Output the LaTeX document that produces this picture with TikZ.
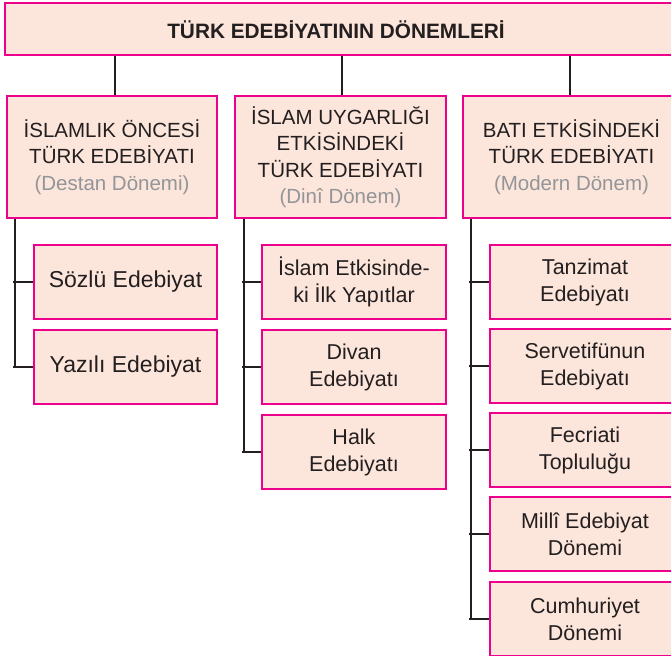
\documentclass[tikz,border=0pt]{standalone}
\usepackage{fontspec}
\setmainfont{Liberation Sans}
\definecolor{boxfill}{HTML}{FCE5DA}
\definecolor{boxline}{HTML}{EC008C}
\definecolor{ink}{HTML}{231F20}
\definecolor{subgray}{HTML}{939598}
\tikzset{
  x=1pt, y=-1pt,
  pbox/.style={draw=boxline, fill=boxfill, line width=2pt, inner sep=0pt, align=center, text=ink, anchor=center},
  lvlone/.style={pbox, font=\fontsize{20.5}{26.5}\selectfont},
  kid/.style={pbox, font=\fontsize{21.5}{27}\selectfont},
  kidA/.style={pbox, font=\fontsize{23}{28}\selectfont},
  conn/.style={draw=ink, line width=2.5pt},
}
\newcommand{\sub}[1]{\textcolor{subgray}{#1}}
\begin{document}
\begin{tikzpicture}
\useasboundingbox (0,0) rectangle (671,655);
\clip (0,0) rectangle (671,655);
% top
\node[pbox, minimum width=675pt, minimum height=52pt] (top) at (342.5,29) {};
\node[text=ink, font=\fontsize{20.8}{24}\selectfont\bfseries, inner sep=0pt] (toptxt) at (336,30) {TÜRK EDEBİYATININ DÖNEMLERİ};
% level one
\node[lvlone, minimum width=210pt, minimum height=122pt] (A) at (112,157) {İSLAMLIK ÖNCESİ\\TÜRK EDEBİYATI\\\sub{(Destan Dönemi)}};
\node[lvlone, minimum width=211pt, minimum height=122pt] (B) at (340.5,157) {İSLAM UYGARLIĞI\\ETKİSİNDEKİ\\TÜRK EDEBİYATI\\\sub{(Dinî Dönem)}};
\node[lvlone, minimum width=217pt, minimum height=122pt] (C) at (571.5,157) {BATI ETKİSİNDEKİ\\TÜRK EDEBİYATI\\\sub{(Modern Dönem)}};
% connectors from top
\draw[conn] ([xshift=3pt]A.north) -- ([xshift=3pt]A.north |- top.south);
\draw[conn] ([xshift=1.5pt]B.north) -- ([xshift=1.5pt]B.north |- top.south);
\draw[conn] ([xshift=-1.5pt]C.north) -- ([xshift=-1.5pt]C.north |- top.south);
% column A children
\node[kidA, minimum width=183pt, minimum height=74pt] (A1) at (125.5,282) {Sözlü Edebiyat};
\node[kidA, minimum width=183pt, minimum height=74pt] (A2) at (125.5,367) {Yazılı Edebiyat};
% column B children
\node[kid, minimum width=184pt, minimum height=74pt] (B1) at (354,282) {İslam Etkisinde-\\ki İlk Yapıtlar};
\node[kid, minimum width=184pt, minimum height=74pt] (B2) at (354,367) {Divan\\Edebiyatı};
\node[kid, minimum width=184pt, minimum height=74pt] (B3) at (354,452) {Halk\\Edebiyatı};
% column C children
\node[kid, minimum width=190pt, minimum height=74pt] (C1) at (585,282) {Tanzimat\\Edebiyatı};
\node[kid, minimum width=190pt, minimum height=74pt] (C2) at (585,366) {Servetifünun\\Edebiyatı};
\node[kid, minimum width=190pt, minimum height=74pt] (C3) at (585,450) {Fecriati\\Topluluğu};
\node[kid, minimum width=190pt, minimum height=74pt] (C4) at (585,534) {Millî Edebiyat\\Dönemi};
\node[kid, minimum width=190pt, minimum height=74pt] (C5) at (585,619) {Cumhuriyet\\Dönemi};
% trunks
\coordinate (tA) at (15,0);
\coordinate (tB) at (244,0);
\coordinate (tC) at (471,0);
\draw[conn] (tA |- A.south) -- (tA |- A2.west);
\draw[conn] (tB |- B.south) -- (tB |- B3.west);
\draw[conn] (tC |- C.south) -- (tC |- C5.west);
% stubs
\foreach \k in {A1,A2} \draw[conn] ([xshift=-2pt]tA |- \k.west) -- (\k.west);
\foreach \k in {B1,B2,B3} \draw[conn] ([xshift=-2pt]tB |- \k.west) -- (\k.west);
\foreach \k in {C1,C2,C3,C4,C5} \draw[conn] ([xshift=-2pt]tC |- \k.west) -- (\k.west);
\end{tikzpicture}
\end{document}
